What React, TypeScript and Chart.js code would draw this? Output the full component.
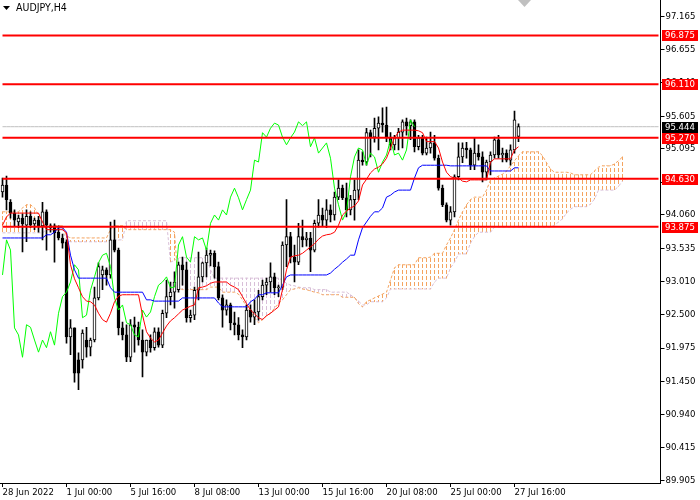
import React, { useEffect, useRef } from "react";
import { Chart, registerables } from "chart.js";

Chart.register(...registerables);

const BAR_COUNT = 165;

const open = [94.42,94.53,94.26,94.09,93.95,94.01,93.90,94.04,93.92,93.98,
93.89,94.11,93.86,93.89,93.79,93.70,93.64,92.15,92.29,91.79,
91.79,92.10,91.99,92.10,92.76,93.12,93.20,93.12,93.67,93.51,
92.29,92.18,91.83,92.34,92.30,92.10,91.91,92.10,91.98,92.23,
92.02,92.52,92.78,92.85,92.89,93.28,93.20,92.45,92.49,92.88,
93.09,93.31,93.43,93.46,93.25,92.76,92.57,92.65,92.37,92.34,
92.18,92.15,92.57,92.46,92.54,92.78,92.96,93.01,93.09,92.92,
92.93,93.59,93.72,93.40,93.32,93.72,93.67,93.70,93.51,93.93,
94.06,93.98,94.14,94.06,94.34,94.48,94.33,94.14,94.30,94.45,
94.92,94.89,95.35,95.28,95.42,95.50,95.47,95.28,95.16,95.27,
95.36,95.52,95.46,95.52,95.13,95.27,95.03,95.11,95.19,94.95,
94.48,94.22,93.98,94.11,94.66,94.97,95.11,95.08,94.84,95.03,
94.97,94.73,94.89,95.00,95.24,95.00,95.03,94.92,95.08,95.29];

const high = [94.64,94.67,94.30,94.14,94.06,94.08,94.14,94.11,94.01,94.04,
94.26,94.14,93.92,93.92,93.89,93.76,93.67,92.42,92.29,91.90,
92.26,92.30,92.13,92.93,93.31,93.26,93.23,93.95,93.98,93.54,
92.38,92.34,92.42,92.46,92.38,92.26,92.10,92.18,92.29,92.29,
92.57,93.04,93.01,93.17,93.32,93.40,93.32,92.57,92.93,93.48,
93.32,93.54,93.51,93.50,93.32,92.81,92.73,92.68,92.54,92.45,
92.26,92.65,92.65,92.73,92.88,93.04,93.07,93.31,93.15,92.96,
93.64,94.30,93.79,93.59,93.93,93.98,93.79,93.79,93.98,94.30,
94.17,94.30,94.22,94.42,94.61,94.53,94.56,94.37,94.61,95.08,
95.05,95.42,95.39,95.58,95.60,95.74,95.75,95.35,95.31,95.42,
95.55,95.58,95.55,95.55,95.31,95.31,95.28,95.36,95.31,95.00,
94.53,94.25,94.19,94.69,95.19,95.19,95.20,95.11,95.27,95.16,
95.05,94.92,95.05,95.28,95.31,95.11,95.08,95.16,95.69,95.49];

const low = [94.34,94.14,94.01,93.89,93.86,93.48,93.64,93.86,93.83,93.79,
93.67,93.51,93.79,93.32,93.67,93.54,92.05,91.87,91.44,91.32,
91.66,91.83,91.85,92.07,92.73,92.89,92.96,93.07,93.48,92.18,
92.10,91.76,91.76,91.91,92.02,91.52,91.85,91.91,91.94,91.99,
91.98,92.45,92.65,92.60,92.85,92.96,92.38,92.38,92.42,92.73,
93.01,93.09,93.26,93.07,92.73,92.30,92.49,92.26,92.18,92.10,
91.98,92.10,92.38,92.34,92.41,92.73,92.81,92.85,92.81,92.78,
92.89,93.25,93.31,93.01,93.28,93.56,93.57,93.17,93.48,93.87,
93.89,93.86,93.95,93.98,94.30,94.30,94.03,94.06,93.98,94.30,
94.84,94.84,94.97,95.20,95.08,95.36,95.21,95.08,95.08,95.08,
95.11,95.31,95.24,95.05,95.08,95.00,95.00,95.03,94.92,94.45,
94.19,93.95,93.90,94.03,94.61,94.88,94.95,94.77,94.77,94.92,
94.58,94.61,94.69,94.95,94.95,94.89,94.89,94.84,95.03,95.21];

const close = [94.53,94.30,94.09,93.98,94.01,93.92,94.04,93.90,93.98,93.89,
94.11,93.90,93.89,93.78,93.70,93.62,92.15,92.29,91.58,91.58,
92.21,91.99,92.10,92.76,93.25,93.20,93.12,93.67,93.51,92.29,
92.18,91.83,92.34,92.30,92.10,91.91,92.10,91.98,92.23,92.02,
92.52,92.78,92.85,93.01,93.28,93.20,92.45,92.49,92.88,93.09,
93.31,93.43,93.46,93.25,92.76,92.57,92.65,92.37,92.34,92.18,
92.15,92.57,92.46,92.54,92.78,92.96,93.01,93.09,92.92,92.93,
93.59,93.72,93.40,93.32,93.72,93.67,93.70,93.51,93.93,94.06,
93.98,94.14,94.06,94.34,94.48,94.33,94.14,94.30,94.45,94.92,
94.89,95.35,95.28,95.42,95.50,95.47,95.28,95.16,95.27,95.36,
95.52,95.46,95.52,95.13,95.27,95.03,95.11,95.19,94.95,94.48,
94.22,93.98,94.11,94.66,94.97,95.11,95.08,94.84,95.03,94.97,
94.73,94.89,95.00,95.24,95.00,95.03,94.92,95.08,95.55,95.444];

const tenkan = [93.90,94.03,94.09,94.09,94.09,94.09,94.09,94.09,94.09,94.09,
93.95,93.83,93.83,93.83,93.83,93.83,93.78,93.28,93.06,92.92,
92.78,92.71,92.70,92.65,92.52,92.42,92.38,92.52,92.70,92.79,
92.81,92.81,92.81,92.81,92.81,92.49,92.23,92.13,92.07,92.10,
92.21,92.32,92.40,92.45,92.51,92.57,92.60,92.63,92.65,92.92,
92.93,92.95,92.99,93.01,93.01,93.01,93.01,92.96,92.93,92.89,
92.78,92.67,92.57,92.51,92.45,92.42,92.48,92.52,92.57,92.62,
92.89,93.20,93.40,93.42,93.43,93.46,93.51,93.56,93.61,93.68,
93.73,93.75,93.76,93.79,93.90,94.06,94.12,94.17,94.20,94.28,
94.53,94.62,94.72,94.78,94.81,94.86,94.95,95.11,95.27,95.36,
95.39,95.39,95.39,95.39,95.38,95.35,95.21,95.21,95.21,95.11,
94.89,94.73,94.66,94.64,94.64,94.59,94.58,94.61,94.61,94.61,
94.61,94.61,94.89,94.94,94.94,94.94,94.94,94.94,95.08,95.13];

const kijun = [93.70,93.70,93.70,93.70,93.70,93.70,93.70,93.70,93.70,93.70,
93.70,93.75,93.75,93.79,93.86,93.86,93.79,93.43,93.20,93.07,
93.07,93.07,93.07,93.07,93.07,93.07,93.07,92.92,92.85,92.85,
92.85,92.85,92.85,92.85,92.85,92.85,92.73,92.73,92.71,92.71,
92.71,92.71,92.71,92.71,92.71,92.76,92.76,92.76,92.76,92.76,
92.76,92.76,92.76,92.76,92.68,92.62,92.62,92.62,92.62,92.62,
92.62,92.62,92.70,92.74,92.81,92.81,92.84,92.84,92.84,92.84,
92.96,93.09,93.12,93.12,93.12,93.12,93.12,93.12,93.12,93.12,
93.12,93.12,93.15,93.21,93.26,93.32,93.37,93.43,93.43,93.67,
93.86,93.95,94.04,94.11,94.11,94.17,94.34,94.37,94.42,94.45,
94.45,94.45,94.45,94.64,94.80,94.84,94.84,94.84,94.84,94.84,
94.84,94.84,94.83,94.83,94.83,94.83,94.83,94.83,94.83,94.83,
94.83,94.83,94.75,94.75,94.75,94.75,94.75,94.75,94.80,94.80];

const senkouA = [94.11,94.11,94.11,94.11,94.11,94.17,94.22,94.22,94.17,94.06,
93.95,93.89,93.89,93.89,93.89,93.89,93.73,93.70,93.70,93.70,
93.70,93.70,93.70,93.70,93.70,93.70,93.70,93.83,93.89,93.89,
93.89,93.83,93.83,93.83,93.83,93.83,93.83,93.83,93.83,93.83,
93.83,93.83,93.83,93.79,92.92,92.89,92.89,92.89,92.89,92.89,
92.89,92.89,92.93,92.93,92.93,92.85,92.85,92.85,92.85,92.82,
92.73,92.63,92.54,92.45,92.37,92.42,92.48,92.52,92.60,92.67,
92.73,92.81,92.89,92.90,92.92,92.90,92.89,92.87,92.85,92.84,
92.81,92.81,92.81,92.81,92.81,92.77,92.77,92.77,92.77,92.67,
92.62,92.70,92.73,92.76,92.79,92.82,92.85,93.04,93.23,93.28,
93.28,93.28,93.28,93.28,93.39,93.39,93.39,93.40,93.46,93.46,
93.46,93.59,93.70,93.83,93.98,94.11,94.22,94.30,94.34,94.34,
94.34,94.45,94.61,94.64,94.67,94.70,94.75,94.83,94.91,94.99,
95.05,95.05,95.05,95.05,95.05,94.99,94.88,94.78,94.73,94.73,
94.73,94.73,94.72,94.69,94.69,94.69,94.69,94.69,94.75,94.81,
94.83,94.83,94.83,94.86,94.91,94.97];

const senkouB = [93.78,93.78,93.78,93.78,93.78,93.78,93.78,93.78,93.78,93.78,
93.78,93.83,93.83,93.83,93.83,93.83,93.67,93.64,93.64,93.64,
93.64,93.64,93.64,93.64,93.64,93.64,93.64,93.67,93.67,93.67,
93.67,93.97,93.97,93.97,93.97,93.97,93.97,93.97,93.97,93.97,
93.97,93.97,93.32,93.35,93.39,93.39,93.39,93.39,93.39,93.39,
93.39,93.39,93.20,93.07,93.07,93.07,93.07,93.07,93.07,93.07,
93.07,93.07,93.07,93.07,93.07,93.07,93.07,93.07,93.07,93.07,
93.04,92.99,92.96,92.95,92.93,92.92,92.92,92.92,92.89,92.89,
92.89,92.89,92.85,92.85,92.85,92.85,92.85,92.81,92.76,92.71,
92.65,92.65,92.70,92.70,92.70,92.70,92.76,92.90,92.90,92.90,
92.90,92.90,92.90,92.90,92.90,92.90,92.90,92.90,93.01,93.07,
93.07,93.07,93.23,93.32,93.45,93.45,93.45,93.62,93.72,93.79,
93.79,93.79,93.79,93.87,93.87,93.87,93.87,93.87,93.87,93.87,
93.87,93.87,93.87,93.87,93.87,93.87,93.87,93.87,93.90,93.95,
94.00,94.09,94.15,94.19,94.19,94.19,94.19,94.23,94.31,94.45,
94.45,94.45,94.45,94.45,94.51,94.59];

const CHIKOU_SHIFT = 26;
const levels = [96.875, 96.110, 95.270, 94.630, 93.875];
const bidPrice = 95.444;
const yTicks = [97.165, 96.655, 96.140, 95.605, 95.095, 94.570, 94.060, 93.535, 93.010, 92.500, 91.975, 91.450, 90.940, 90.415, 89.905];
const xTickIndex = [0, 16, 32, 48, 64, 80, 96, 112, 128];
const xTickText = ["28 Jun 2022", "1 Jul 00:00", "5 Jul 16:00", "8 Jul 08:00", "13 Jul 00:00", "15 Jul 16:00", "20 Jul 08:00", "25 Jul 00:00", "27 Jul 16:00"];
const symbolTitle = "AUDJPY,H4";
const Y_MIN = 89.859;
const Y_MAX = 97.43;

const FONT = "'DejaVu Sans Condensed', 'DejaVu Sans', sans-serif";
const FONT_SIZE = 9.5;

export default function App() {
  const ref = useRef<HTMLCanvasElement>(null);

  useEffect(() => {
    const canvas = ref.current!;
    const mainCtx = canvas.getContext("2d")!;
    // hatch: one 1px dashed vertical line per 4px bar slot
    const mkPattern = (color: string) => {
      const c = document.createElement("canvas");
      c.width = 4;
      c.height = 6;
      const g = c.getContext("2d")!;
      g.fillStyle = color;
      g.fillRect(2, 0, 1, 4);
      return mainCtx.createPattern(c, "repeat")!;
    };
    const orangeHatch = mkPattern("#F4A460");
    const thistleHatch = mkPattern("#D8BFD8");
    const labels = Array.from({ length: BAR_COUNT }, (_, i) => String(i));

    const overlay = {
      id: "overlay",
      afterDraw(chart: any) {
        const ctx = chart.ctx;
        const ys = chart.scales.y;
        const ca = chart.chartArea;
        ctx.save();
        ctx.font = `${FONT_SIZE}px ${FONT}`;
        ctx.textBaseline = "middle";
        ctx.textAlign = "left";
        const box = (value: number, bg: string) => {
          const y = Math.round(ys.getPixelForValue(value));
          ctx.fillStyle = bg;
          ctx.fillRect(Math.round(ca.right) + 1, y - 5, 36, 11);
          ctx.fillStyle = "#FFFFFF";
          ctx.fillText(value.toFixed(3), Math.round(ca.right) + 4, y + 0.5);
        };
        levels.forEach((lv) => box(lv, "#FF0000"));
        box(bidPrice, "#000000");
        // title
        ctx.fillStyle = "#000000";
        ctx.beginPath();
        ctx.moveTo(3, 6);
        ctx.lineTo(10, 6);
        ctx.lineTo(6.5, 10);
        ctx.closePath();
        ctx.fill();
        ctx.font = `10.5px ${FONT}`;
        ctx.fillText(symbolTitle, 16, 8.5);
        // shift marker
        ctx.fillStyle = "#C0C0C0";
        ctx.beginPath();
        ctx.moveTo(518, 0);
        ctx.lineTo(531, 0);
        ctx.lineTo(524.5, 7);
        ctx.closePath();
        ctx.fill();
        ctx.restore();
      },
    };

    const lineBase = {
      type: "line" as const,
      pointRadius: 0,
      pointHoverRadius: 0,
      borderWidth: 1,
      tension: 0,
      fill: false,
    };

    const chart = new Chart(canvas, {
      type: "bar",
      data: {
        labels,
        datasets: [
          {
            type: "bar",
            data: senkouA.map((a, i) => [a, senkouB[i]]),
            backgroundColor: (c: any) =>
              senkouA[c.dataIndex] >= senkouB[c.dataIndex] ? orangeHatch : thistleHatch,
            borderWidth: 0,
            barThickness: 4,
            grouped: false,
            order: 20,
          } as any,
          { ...lineBase, data: senkouA, borderColor: "#F4A460", borderDash: [3, 2], order: 19 } as any,
          { ...lineBase, data: senkouB, borderColor: "#D8BFD8", borderDash: [3, 2], order: 19 } as any,
          { ...lineBase, data: labels.map(() => bidPrice), borderColor: "#C0C0C0", order: 18 } as any,
          {
            type: "bar",
            data: low.map((l, i) => [l, high[i]]),
            backgroundColor: "#000000",
            borderWidth: 0,
            barThickness: 1,
            grouped: false,
            order: 15,
          } as any,
          {
            type: "bar",
            data: open.map((o, i) => [o, close[i]]),
            backgroundColor: (c: any) =>
              close[c.dataIndex] >= open[c.dataIndex] ? "#FFFFFF" : "#000000",
            borderColor: "#000000",
            borderWidth: 1,
            borderSkipped: false,
            barThickness: 3,
            minBarLength: 1,
            grouped: false,
            order: 14,
          } as any,
          { ...lineBase, data: close.slice(CHIKOU_SHIFT), borderColor: "#00FF00", order: 10 } as any,
          { ...lineBase, data: kijun, borderColor: "#0000FF", order: 9 } as any,
          { ...lineBase, data: tenkan, borderColor: "#FF0000", order: 8 } as any,
          ...levels.map(
            (lv) =>
              ({ ...lineBase, data: labels.map(() => lv), borderColor: "#FF0000", borderWidth: 2, order: 1 } as any)
          ),
        ],
      },
      options: {
        responsive: false,
        animation: false,
        devicePixelRatio: 1,
        events: [],
        layout: { padding: { left: 0.5, right: 0, top: 0, bottom: 0 } },
        plugins: { legend: { display: false }, tooltip: { enabled: false } },
        scales: {
          x: {
            type: "category",
            offset: true,
            grid: { display: true, drawOnChartArea: false, drawTicks: true, tickLength: 4, color: "#000000", offset: false },
            border: { display: true, color: "#000000", width: 1 },
            ticks: {
              autoSkip: false,
              maxRotation: 0,
              minRotation: 0,
              align: "start",
              padding: 0,
              color: "#000000",
              font: { family: FONT, size: FONT_SIZE },
              callback: (v: any) => {
                const j = xTickIndex.indexOf(Number(v));
                return j >= 0 ? xTickText[j] : "";
              },
            },
            afterBuildTicks: (s: any) => {
              s.ticks = xTickIndex.map((v) => ({ value: v }));
            },
            afterFit: (s: any) => {
              s.height = 17;
              s.paddingLeft = 0;
              s.paddingRight = 0;
            },
          },
          y: {
            type: "linear",
            position: "right",
            min: Y_MIN,
            max: Y_MAX,
            grid: { display: true, drawOnChartArea: false, drawTicks: true, tickLength: 4, color: "#000000" },
            border: { display: true, color: "#000000", width: 1 },
            ticks: {
              autoSkip: false,
              padding: 1,
              color: "#000000",
              font: { family: FONT, size: FONT_SIZE },
              callback: (v: any) => Number(v).toFixed(3),
            },
            afterBuildTicks: (s: any) => {
              s.ticks = yTicks.map((v) => ({ value: v }));
            },
            afterFit: (s: any) => {
              s.width = 39.5;
              s.paddingTop = 0;
              s.paddingBottom = 0;
            },
          },
        },
      } as any,
      plugins: [overlay],
    });

    return () => chart.destroy();
  }, []);

  return (
    <div style={{ position: "fixed", left: 0, top: 0, width: 700, height: 500, background: "#FFFFFF" }}>
      <canvas ref={ref} width={700} height={500} style={{ display: "block", width: 700, height: 500 }} />
    </div>
  );
}
